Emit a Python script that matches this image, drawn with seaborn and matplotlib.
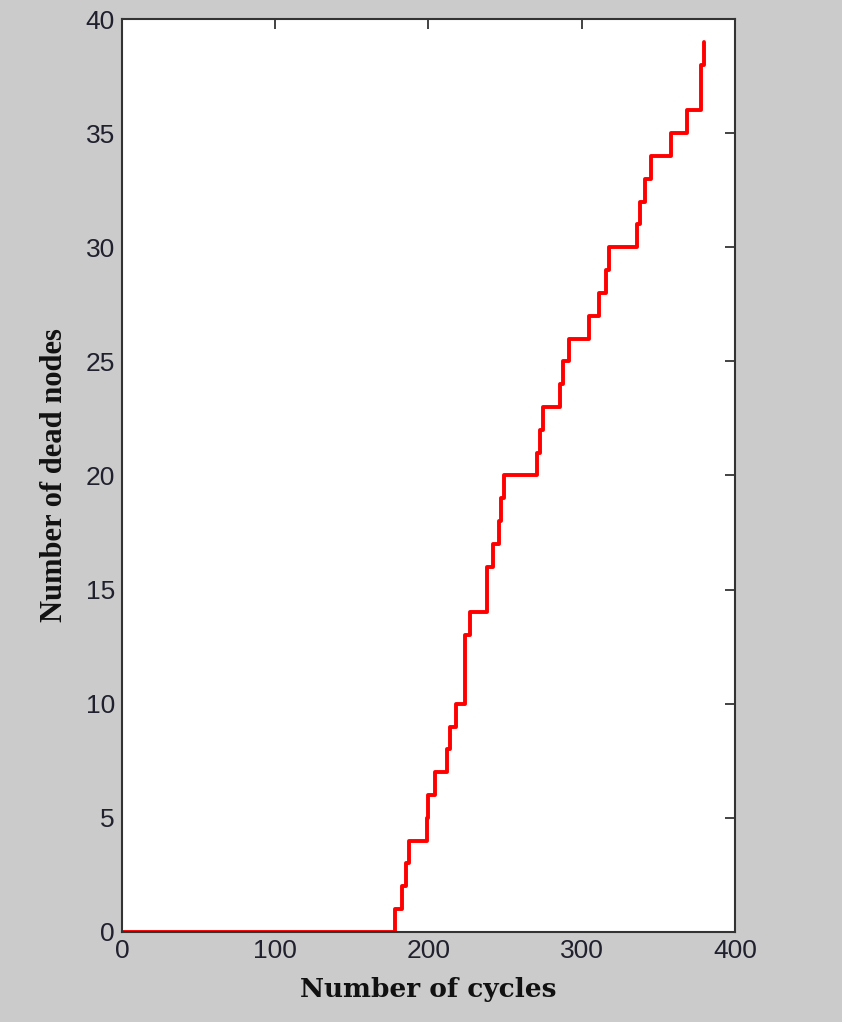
import pandas as pd
import numpy as np
import matplotlib.pyplot as plt
import seaborn as sns

# cycle at which the dead-node count changes, and the new count
cycles = [0, 178, 183, 185, 187, 199, 200, 204, 212, 214, 218, 224, 227, 238, 242,
          246, 247, 249, 271, 273, 275, 286, 288, 292, 305, 311, 316, 318, 336,
          338, 341, 345, 358, 369, 378, 380]
dead_nodes = [0, 1, 2, 3, 4, 5, 6, 7, 8, 9, 10, 13, 14, 16, 17,
              18, 19, 20, 21, 22, 23, 24, 25, 26, 27, 28, 29, 30, 31,
              32, 33, 34, 35, 36, 38, 39]
x_ticks = [0, 100, 200, 300, 400]
y_ticks = [0, 5, 10, 15, 20, 25, 30, 35, 40]

df = pd.DataFrame({'cycles': cycles, 'dead': dead_nodes})

sns.set_style('white')
plt.rcParams['font.family'] = ['Liberation Sans', 'DejaVu Sans']

fig = plt.figure(figsize=(8.42, 10.22), dpi=100, facecolor='#cbcbcb')
ax = fig.add_axes([0.1449, 0.0881, 0.728, 0.8933])
ax.set_facecolor('white')

sns.lineplot(data=df, x='cycles', y='dead', ax=ax, color='#ff0000',
             linewidth=2.8, drawstyle='steps-post', estimator=None, sort=False)

ax.set_xlim(0, 400)
ax.set_ylim(0, 40)
ax.set_xticks(x_ticks)
ax.set_yticks(y_ticks)
ax.tick_params(direction='in', length=7, width=1.2, colors='#222222',
               labelcolor='#20202e', labelsize=19, top=True, right=True, pad=5)
for side in ax.spines.values():
    side.set_color('#333333')
    side.set_linewidth(1.5)

ax.set_xlabel('Number of cycles', family=['DejaVu Serif'], fontweight='bold',
              fontsize=19, color='#111111', labelpad=10)
ax.set_ylabel('Number of dead nodes', family=['Liberation Serif', 'DejaVu Serif'],
              fontweight='bold', fontsize=22, color='#111111', labelpad=12)

fig.savefig('out.png', dpi=100, facecolor=fig.get_facecolor())
